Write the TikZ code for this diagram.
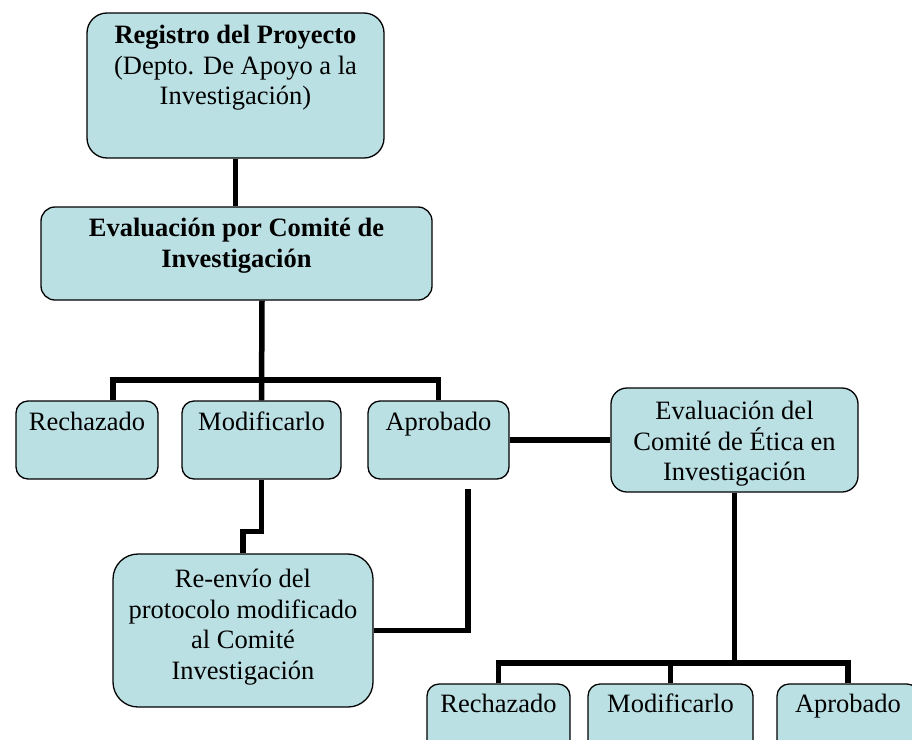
\documentclass[tikz,border=0pt]{standalone}
\usepackage{fontspec}
\setmainfont{Liberation Serif}
\usetikzlibrary{backgrounds}
\definecolor{boxfill}{RGB}{187,224,227}
\begin{document}
\begin{tikzpicture}[x=1pt,y=-1pt,
  box/.style={draw=black, line width=1.3pt, fill=boxfill, inner sep=0pt},
  txt/.style={anchor=north, inner sep=0pt, align=center, font=\fontsize{26.5}{30.5}\selectfont},
  conn/.style={line width=5.5pt, draw=black, line join=miter}]
\useasboundingbox (0,0) rectangle (912,739);
% boxes
\node[box, rounded corners=20pt, minimum width=297pt, minimum height=145pt] (reg) at (235.5,85.5) {};
\node[box, rounded corners=14pt, minimum width=391pt, minimum height=93pt] (evalci) at (236.5,253.5) {};
\node[box, rounded corners=12pt, minimum width=142pt, minimum height=78pt] (rech1) at (87,440) {};
\node[box, rounded corners=12pt, minimum width=159pt, minimum height=78pt] (modif1) at (261.5,440) {};
\node[box, rounded corners=12pt, minimum width=141pt, minimum height=78pt] (aprob1) at (438.5,440) {};
\node[box, rounded corners=16pt, minimum width=247pt, minimum height=104pt] (etica) at (734.5,440) {};
\node[box, rounded corners=25pt, minimum width=260pt, minimum height=153pt] (reenvio) at (243,630.5) {};
\node[box, rounded corners=12pt, minimum width=143pt, minimum height=78pt] (rech2) at (498.5,723) {};
\node[box, rounded corners=12pt, minimum width=165pt, minimum height=78pt] (modif2) at (670.5,723) {};
\node[box, rounded corners=12pt, minimum width=142pt, minimum height=78pt] (aprob2) at (848,723) {};
% texts
\node[txt] (reg-t) at ([yshift=-11pt]reg.north) {\rule{0pt}{20pt}\textbf{Registro del Proyecto}\\(Depto. De Apoyo a la\\Investigación)};
\node[txt] (evalci-t) at ([yshift=-10pt]evalci.north) {\rule{0pt}{20pt}\textbf{Evaluación por Comité de}\\\textbf{Investigación}};
\node[txt] (rech1-t) at ([yshift=-10pt]rech1.north) {\rule{0pt}{20pt}Rechazado};
\node[txt] (modif1-t) at ([yshift=-10pt]modif1.north) {\rule{0pt}{20pt}Modificarlo};
\node[txt] (aprob1-t) at ([yshift=-10pt]aprob1.north) {\rule{0pt}{20pt}Aprobado};
\node[txt] (etica-t) at ([yshift=-12pt]etica.north) {\rule{0pt}{20pt}Evaluación del\\Comité de Ética en\\Investigación};
\node[txt] (reenvio-t) at ([yshift=-14pt]reenvio.north) {\rule{0pt}{20pt}Re-envío del\\protocolo modificado\\al Comité\\Investigación};
\node[txt] (rech2-t) at ([yshift=-9pt]rech2.north) {\rule{0pt}{20pt}Rechazado};
\node[txt] (modif2-t) at ([yshift=-9pt]modif2.north) {\rule{0pt}{20pt}Modificarlo};
\node[txt] (aprob2-t) at ([yshift=-9pt]aprob2.north) {\rule{0pt}{20pt}Aprobado};
% connectors
\coordinate (bar1) at (262,380);
\coordinate (bar2) at (734.5,663);
\coordinate (endc) at (468,489);
\begin{pgfonlayer}{background}
\draw[conn] (reg.south) -- (reg.south |- evalci.north);
\draw[conn] (bar1 |- evalci.south) -- (modif1.north);
\draw[conn] ([xshift=26pt]rech1.north) |- (bar1) -| (aprob1.north);
\draw[conn] (aprob1.east) -- (etica.west);
\draw[conn] (modif1.south) -- ++(0,52) -| (reenvio.north);
\draw[conn] (reenvio.east) -| (endc);
\draw[conn] (etica.south) -- (bar2);
\draw[conn] (rech2.north) |- (bar2) -| (aprob2.north);
\draw[conn] (modif2.north) -- (modif2.north |- bar2);
\end{pgfonlayer}
\end{tikzpicture}
\end{document}
